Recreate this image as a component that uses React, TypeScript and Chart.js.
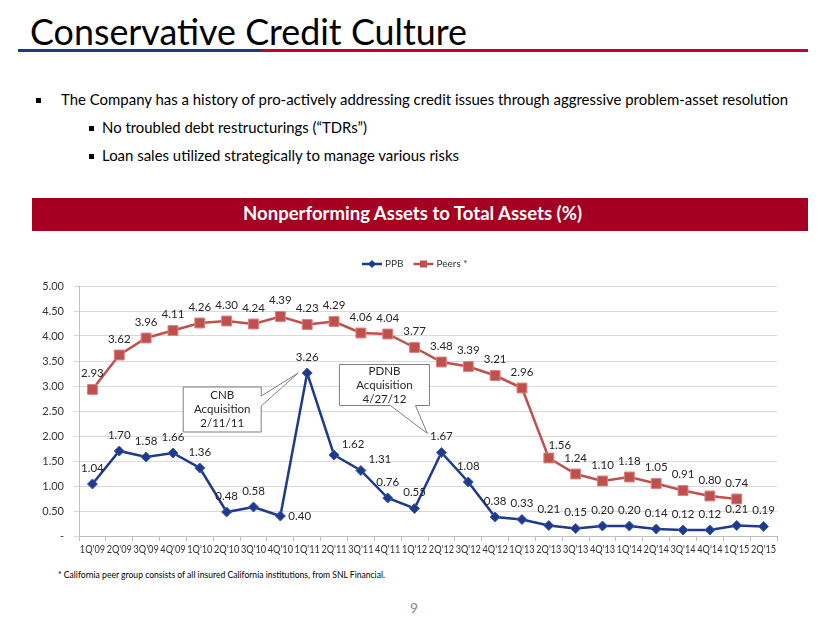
import React, { useEffect, useLayoutEffect, useRef } from 'react';
import { Chart, registerables } from 'chart.js';

Chart.register(...registerables);

const categories = [
  "1Q'09", "2Q'09", "3Q'09", "4Q'09",
  "1Q'10", "2Q'10", "3Q'10", "4Q'10",
  "1Q'11", "2Q'11", "3Q'11", "4Q'11",
  "1Q'12", "2Q'12", "3Q'12", "4Q'12",
  "1Q'13", "2Q'13", "3Q'13", "4Q'13",
  "1Q'14", "2Q'14", "3Q'14", "4Q'14",
  "1Q'15", "2Q'15",
];

const ppbValues = [
  1.04, 1.70, 1.58, 1.66,
  1.36, 0.48, 0.58, 0.40,
  3.26, 1.62, 1.31, 0.76,
  0.55, 1.67, 1.08, 0.38,
  0.33, 0.21, 0.15, 0.20,
  0.20, 0.14, 0.12, 0.12,
  0.21, 0.19,
];

const peersValues: (number | null)[] = [
  2.93, 3.62, 3.96, 4.11,
  4.26, 4.30, 4.24, 4.39,
  4.23, 4.29, 4.06, 4.04,
  3.77, 3.48, 3.39, 3.21,
  2.96, 1.56, 1.24, 1.10,
  1.18, 1.05, 0.91, 0.80,
  0.74, null,
];

const seriesNames = ['PPB', 'Peers *'];

const yTickValues = [0, 0.5, 1.0, 1.5, 2.0, 2.5, 3.0, 3.5, 4.0, 4.5, 5.0];
const yTickLabels = ['-', '0.50', '1.00', '1.50', '2.00', '2.50', '3.00', '3.50', '4.00', '4.50', '5.00'];

const callouts = [
  { lines: ['CNB', 'Acquisition', '2/11/11'], series: 0, index: 8 },
  { lines: ['PDNB', 'Acquisition', '4/27/12'], series: 0, index: 13 },
];

const NAVY = '#1F3A8A';
const RED = '#C0504D';
const LABEL_FONT = "11.5px Lato, 'Noto Sans', sans-serif";

function FitText(props: { text: string; left: number; top: number; width: number; fontSize: number; style?: React.CSSProperties }) {
  const ref = useRef<HTMLSpanElement>(null);
  useLayoutEffect(() => {
    const el = ref.current;
    if (!el) return;
    const fit = () => {
      el.style.transform = 'none';
      const w = el.getBoundingClientRect().width;
      if (w > 0) el.style.transform = `scaleX(${props.width / w})`;
    };
    fit();
    if ((document as any).fonts && (document as any).fonts.ready) (document as any).fonts.ready.then(fit);
  }, []);
  return (
    <span
      ref={ref}
      style={{
        position: 'absolute',
        left: props.left,
        top: props.top,
        fontSize: props.fontSize,
        lineHeight: 1,
        whiteSpace: 'nowrap',
        transformOrigin: '0 0',
        fontFamily: "Lato, 'Noto Sans', sans-serif",
        color: '#000',
        ...props.style,
      }}
    >
      {props.text}
    </span>
  );
}

const extrasPlugin = {
  id: 'slideExtras',
  afterDraw(chart: any, _args: any, opts: any) {
    const ctx: CanvasRenderingContext2D = chart.ctx;
    ctx.save();
    // x-axis category labels (slightly condensed, like the original's narrow font)
    const xs = chart.scales.x;
    ctx.font = "11.5px Lato, 'Noto Sans', sans-serif";
    ctx.fillStyle = '#333';
    ctx.textAlign = 'center';
    ctx.textBaseline = 'middle';
    (chart.data.labels as string[]).forEach((lab, i) => {
      const x = xs.getPixelForTick(i);
      ctx.save();
      ctx.translate(x, xs.top + 13);
      ctx.scale(0.8, 1);
      ctx.fillText(lab, 0, 0);
      ctx.restore();
    });

    // data labels
    ctx.font = LABEL_FONT;
    ctx.fillStyle = '#262626';
    ctx.textBaseline = 'middle';
    chart.data.datasets.forEach((ds: any, di: number) => {
      const meta = chart.getDatasetMeta(di);
      const places = (opts.placements && opts.placements[di]) || {};
      meta.data.forEach((pt: any, i: number) => {
        const v = ds.data[i];
        if (v == null) return;
        const place = places[i] || 'top';
        let dx = 0, dy = -16;
        ctx.textAlign = 'center';
        if (place === 'right') { dx = 8; dy = 0; ctx.textAlign = 'left'; }
        else if (place === 'topRight') { dx = 19; dy = -11; }
        else if (place === 'topRightSmall') { dx = 11; dy = -13; }
        ctx.fillText(Number(v).toFixed(2), pt.x + dx, pt.y + dy);
      });
    });

    // callouts
    const co = opts.callouts || [];
    co.forEach((c: any, k: number) => {
      const g = opts.calloutGeom[k];
      const pt = chart.getDatasetMeta(c.series).data[c.index];
      const x0 = pt.x + g.box[0], y0 = pt.y + g.box[1], x1 = pt.x + g.box[2], y1 = pt.y + g.box[3];
      const tip = [pt.x + g.tip[0], pt.y + g.tip[1]];
      ctx.beginPath();
      if (g.side === 'right') {
        const a = y0 + g.base[0], b = y0 + g.base[1];
        ctx.moveTo(x0, y0); ctx.lineTo(x1, y0); ctx.lineTo(x1, a);
        ctx.lineTo(tip[0], tip[1]); ctx.lineTo(x1, b);
        ctx.lineTo(x1, y1); ctx.lineTo(x0, y1); ctx.closePath();
      } else {
        const a = x0 + g.base[0], b = x0 + g.base[1];
        ctx.moveTo(x0, y0); ctx.lineTo(x1, y0); ctx.lineTo(x1, y1);
        ctx.lineTo(b, y1); ctx.lineTo(tip[0], tip[1]); ctx.lineTo(a, y1);
        ctx.lineTo(x0, y1); ctx.closePath();
      }
      ctx.fillStyle = '#FFFFFF';
      ctx.fill();
      ctx.strokeStyle = '#7F7F7F';
      ctx.lineWidth = 1;
      ctx.stroke();
      ctx.fillStyle = '#262626';
      ctx.font = LABEL_FONT;
      ctx.textAlign = 'center';
      ctx.textBaseline = 'middle';
      const cx = (x0 + x1) / 2;
      const lh = 14;
      const cy = (y0 + y1) / 2;
      c.lines.forEach((t: string, j: number) => {
        ctx.fillText(t, cx, cy + (j - (c.lines.length - 1) / 2) * lh);
      });
    });

    // legend
    const ly = opts.legendY;
    let lx = opts.legendX;
    ctx.font = "10px Lato, 'Noto Sans', sans-serif";
    ctx.textAlign = 'left';
    ctx.textBaseline = 'middle';
    chart.data.datasets.forEach((ds: any) => {
      ctx.strokeStyle = ds.borderColor;
      ctx.lineWidth = 2.5;
      ctx.beginPath();
      ctx.moveTo(lx, ly); ctx.lineTo(lx + 20, ly); ctx.stroke();
      ctx.fillStyle = ds.pointBackgroundColor;
      ctx.beginPath();
      if (ds.pointStyle === 'rectRot') {
        ctx.moveTo(lx + 10, ly - 4); ctx.lineTo(lx + 14, ly); ctx.lineTo(lx + 10, ly + 4); ctx.lineTo(lx + 6, ly);
        ctx.closePath(); ctx.fill();
      } else {
        ctx.rect(lx + 6.5, ly - 3.5, 7, 7); ctx.fill();
      }
      ctx.fillStyle = '#333';
      ctx.fillText(ds.label, lx + 23, ly);
      lx += 23 + ctx.measureText(ds.label).width + 10;
    });
    ctx.restore();
  },
};

function ChartView() {
  const ref = useRef<HTMLCanvasElement>(null);
  useEffect(() => {
    if (!ref.current) return;
    const chart = new Chart(ref.current, {
      type: 'line',
      data: {
        labels: categories,
        datasets: [
          {
            label: seriesNames[0],
            data: ppbValues,
            borderColor: NAVY,
            backgroundColor: NAVY,
            pointBackgroundColor: NAVY,
            pointBorderColor: '#3B5BB5',
            pointBorderWidth: 1,
            pointStyle: 'rectRot',
            pointRadius: 5,
            borderWidth: 2.5,
            tension: 0,
            order: 1,
          },
          {
            label: seriesNames[1],
            data: peersValues,
            borderColor: RED,
            backgroundColor: RED,
            pointBackgroundColor: RED,
            pointBorderColor: '#D98280',
            pointBorderWidth: 1,
            pointStyle: 'rect',
            pointRadius: 7,
            borderWidth: 2.5,
            tension: 0,
            spanGaps: false,
            order: 2,
          },
        ],
      },
      options: {
        responsive: false,
        animation: false,
        layout: { padding: { top: 46, right: 53, left: 0, bottom: 0 } },
        plugins: {
          legend: { display: false },
          tooltip: { enabled: false },
          slideExtras: {
            placements: [{ 7: 'right', 9: 'topRight', 10: 'topRight' }, { 17: 'topRightSmall' }],
            callouts,
            calloutGeom: [
              { box: [-124, 14, -46, 59], tip: [-9, 0], side: 'right', base: [9, 19] },
              { box: [-102, -88, -12, -47], tip: [-14, -19], side: 'bottom', base: [51, 76] },
            ],
            legendX: 362,
            legendY: 24,
          },
        } as any,
        scales: {
          x: {
            type: 'category',
            offset: true,
            grid: { offset: true, drawOnChartArea: false, drawTicks: true, tickLength: 5, color: '#BFBFBF' },
            border: { display: true, color: '#BFBFBF' },
            ticks: { display: false, autoSkip: false, maxRotation: 0, minRotation: 0 },
            afterFit: (s: any) => { s.height = 34; },
          },
          y: {
            min: 0,
            max: 5,
            afterBuildTicks: (s: any) => { s.ticks = yTickValues.map((v) => ({ value: v })); },
            grid: { color: '#D9D9D9', drawTicks: true, tickLength: 5 },
            border: { display: true, color: '#BFBFBF' },
            ticks: {
              padding: 10,
              color: '#333',
              font: { family: "Lato, 'Noto Sans', sans-serif", size: 11 },
              callback: (v: any) => {
                const i = yTickValues.findIndex((t) => Math.abs(t - Number(v)) < 1e-6);
                return i >= 0 ? yTickLabels[i] : '';
              },
            },
            afterFit: (s: any) => { s.width = 79; },
          },
        },
      },
      plugins: [extrasPlugin as any],
    });
    return () => chart.destroy();
  }, []);
  return <canvas ref={ref} width={830} height={330} style={{ position: 'absolute', left: 0, top: 240, width: 830, height: 330 }} />;
}

export default function App() {
  return (
    <div style={{ position: 'fixed', left: 0, top: 0, width: 830, height: 623, background: '#fff', overflow: 'hidden' }}>
      <FitText text="Conservative Credit Culture" left={30} top={12} width={437} fontSize={37.5} />
      <div style={{ position: 'absolute', left: 18, top: 49, width: 244, height: 3, background: '#1F3A7A' }} />
      <div style={{ position: 'absolute', left: 262, top: 49, width: 546, height: 3, background: '#C00030' }} />

      <div style={{ position: 'absolute', left: 36, top: 98, width: 5, height: 5, background: '#000' }} />
      <FitText text="The Company has a history of pro-actively addressing credit issues through aggressive problem-asset resolution" left={61} top={92} width={727} fontSize={15} />
      <div style={{ position: 'absolute', left: 89, top: 126, width: 5, height: 5, background: '#000' }} />
      <FitText text="No troubled debt restructurings (“TDRs”)" left={102} top={120} width={265} fontSize={15} />
      <div style={{ position: 'absolute', left: 89, top: 154, width: 5, height: 5, background: '#000' }} />
      <FitText text="Loan sales utilized strategically to manage various risks" left={102} top={148} width={357} fontSize={15} />

      <div style={{ position: 'absolute', left: 32, top: 198, width: 776, height: 33, background: '#A50021' }} />
      <FitText text="Nonperforming Assets to Total Assets (%)" left={243} top={204} width={339} fontSize={18} style={{ color: '#fff', fontWeight: 700 }} />

      <ChartView />

      <FitText text="* California peer group consists of all insured California institutions, from SNL Financial." left={58} top={571} width={327} fontSize={8.5} />
      <span style={{ position: 'absolute', left: 410, top: 601, fontSize: 14, lineHeight: 1, color: '#8C8C8C', fontFamily: "Lato, sans-serif" }}>9</span>
    </div>
  );
}
